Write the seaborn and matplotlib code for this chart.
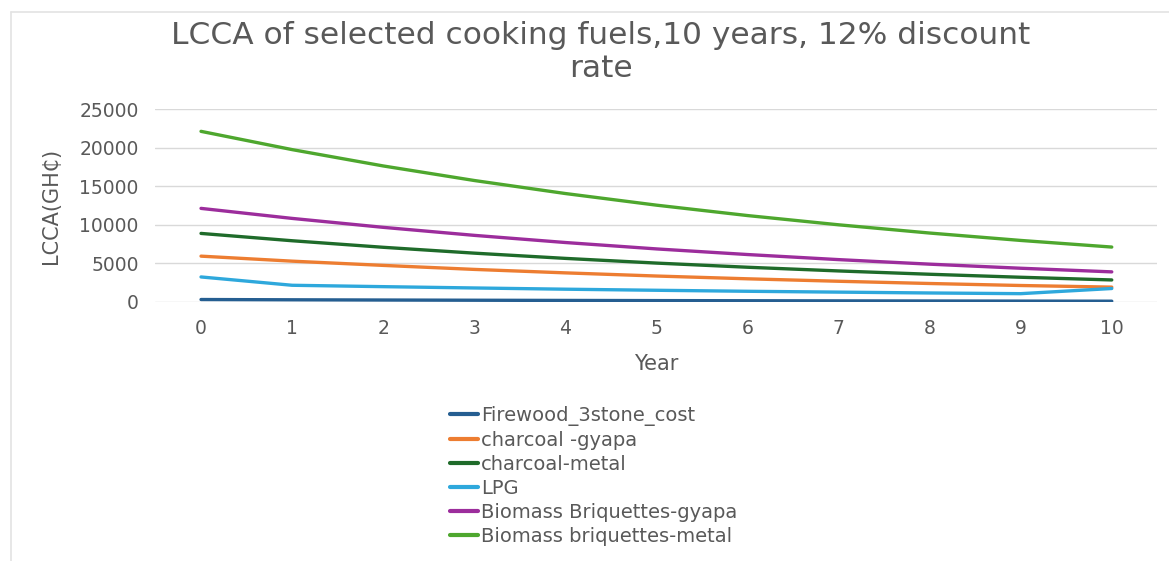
import matplotlib
matplotlib.use("Agg")
import matplotlib.pyplot as plt
import seaborn as sns
import pandas as pd
from matplotlib.lines import Line2D

years = [0, 1, 2, 3, 4, 5, 6, 7, 8, 9, 10]
series_names = [
    "Firewood_3stone_cost",
    "charcoal -gyapa",
    "charcoal-metal",
    "LPG",
    "Biomass Briquettes-gyapa",
    "Biomass briquettes-metal",
]
firewood = [320, 285, 255, 228, 203, 181, 162, 145, 129, 115, 103]
charcoal_gyapa = [5950, 5300, 4750, 4230, 3780, 3370, 3010, 2690, 2400, 2140, 1930]
charcoal_metal = [8900, 7950, 7100, 6340, 5660, 5050, 4510, 4030, 3600, 3210, 2860]
lpg = [3250, 2170, 1990, 1820, 1660, 1520, 1390, 1280, 1170, 1080, 1750]
briq_gyapa = [12150, 10850, 9690, 8650, 7720, 6890, 6160, 5500, 4910, 4380, 3910]
briq_metal = [22150, 19780, 17660, 15770, 14080, 12570, 11220, 10020, 8950, 7990, 7130]
colors = ["#255e91", "#ed7d31", "#1f6b2a", "#2ea8dc", "#9c2d9c", "#4ea72e"]

values = [firewood, charcoal_gyapa, charcoal_metal, lpg, briq_gyapa, briq_metal]
rows = []
for name, vals in zip(series_names, values):
    for y, v in zip(years, vals):
        rows.append({"Year": y, "LCCA": v, "Fuel": name})
df = pd.DataFrame(rows)

sns.set_theme(style="white")
plt.rcParams["font.family"] = ["DejaVu Sans"]
txt = "#595959"

fig = plt.figure(figsize=(11.69, 5.61), dpi=100)
ax = fig.add_axes([0.133, 0.4617, 0.857, 0.3433])

sns.lineplot(data=df, x="Year", y="LCCA", hue="Fuel", hue_order=series_names,
             palette=colors, linewidth=2.4, ax=ax, legend=True)

ax.set_xlim(-0.5, 10.5)
ax.set_ylim(0, 25000)
ax.set_xticks(years)
ax.set_yticks([0, 5000, 10000, 15000, 20000, 25000])
ax.tick_params(axis="both", length=0, labelsize=13.5, colors=txt)
ax.tick_params(axis="y", pad=12)
ax.tick_params(axis="x", pad=12)
ax.grid(axis="y", color="#d9d9d9", linewidth=1)
ax.grid(axis="x", visible=False)
for s in ax.spines.values():
    s.set_visible(False)
ax.set_xlabel("Year", fontsize=15, color=txt, labelpad=12)
ax.set_ylabel("LCCA(GH\u20b5)", fontsize=15, color=txt, labelpad=13)

handles, labels = ax.get_legend_handles_labels()
leg = fig.legend(handles, labels, loc="upper left", bbox_to_anchor=(0.385, 0.277),
                 frameon=False, fontsize=14, labelcolor=txt, handlelength=1.45,
                 handletextpad=0.15, labelspacing=0.26, borderaxespad=0,
                 borderpad=0)
ax.get_legend().remove()
for line in leg.get_lines():
    line.set_linewidth(3)

fig.text(0.514, 0.907, "LCCA of selected cooking fuels,10 years, 12% discount\nrate",
         ha="center", va="center", fontsize=22.5, color=txt, linespacing=1.2)

# faint chart-area border (top and left edges only are visible in the reference)
fig.lines.append(Line2D([0.0094, 1.0], [0.9786, 0.9786], transform=fig.transFigure,
                        color="#e3e3e3", linewidth=1.2))
fig.lines.append(Line2D([0.0094, 0.0094], [0.0, 0.9786], transform=fig.transFigure,
                        color="#e3e3e3", linewidth=1.2))

fig.savefig("out.png", dpi=100)
